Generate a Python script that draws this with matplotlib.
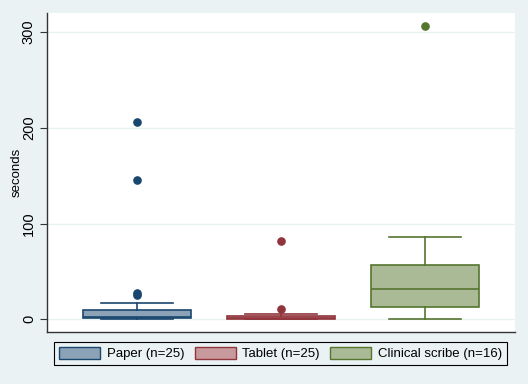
import matplotlib
matplotlib.use("Agg")
import matplotlib.pyplot as plt
from matplotlib.patches import Patch

plt.rcParams['font.family'] = ['Liberation Sans', 'DejaVu Sans']

# Data
groups = ["Paper (n=25)", "Tablet (n=25)", "Clinical scribe (n=16)"]
whislo = [0, 0, 0.3]
q1 = [1.0, 0.6, 12.5]
med = [2.0, 1.0, 31.3]
q3 = [9.7, 3.4, 56.7]
whishi = [16.7, 5.2, 85.7]
outliers = [[25.5, 27.0, 146, 206], [10.4, 81.5], [306]]
yticks = [0, 100, 200, 300]

edge_colors = ["#1a476f", "#90353b", "#55752f"]
fill_colors = ["#8ca3b7", "#c89a9d", "#aaba97"]
bg = "#eaf2f3"

fig = plt.figure(figsize=(5.28, 3.84), dpi=100, facecolor=bg)
ax = fig.add_axes([47/528, 1-332/384, (515-47)/528, (332-13)/384])
ax.set_facecolor("white")

for i in range(3):
    st = [dict(med=med[i], q1=q1[i], q3=q3[i], whislo=whislo[i], whishi=whishi[i],
               fliers=outliers[i], label=groups[i])]
    c = edge_colors[i]
    ax.bxp(st, positions=[i+1], widths=0.75, patch_artist=True, showfliers=True,
           boxprops=dict(facecolor=fill_colors[i], edgecolor=c, linewidth=1.2),
           medianprops=dict(color=c, linewidth=1.2),
           whiskerprops=dict(color=c, linewidth=1.2),
           capprops=dict(color=c, linewidth=1.2),
           capwidths=0.5,
           flierprops=dict(marker='o', markerfacecolor=c, markeredgecolor=c, markersize=5.2))

ax.set_xlim(0.375, 3.625)
ax.set_ylim(-13.3, 320)
ax.set_xticks([])
ax.set_yticks(yticks)
ax.set_yticklabels([str(t) for t in yticks], rotation=90, va='center', fontsize=10.5)
ax.tick_params(axis='y', length=5, width=0.8, color="#333333", pad=3)
ax.yaxis.grid(True, color=bg, linewidth=1.0)
ax.set_axisbelow(True)
for s in ["top", "right"]:
    ax.spines[s].set_visible(False)
for s in ["left", "bottom"]:
    ax.spines[s].set_color("#333333")
    ax.spines[s].set_linewidth(1.0)
ax.set_ylabel("seconds", fontsize=9.5)
ax.yaxis.set_label_coords(-(47-23)/468, 0.5)

handles = [Patch(facecolor=fill_colors[i], edgecolor=edge_colors[i], label=groups[i]) for i in range(3)]
leg = fig.legend(handles=handles, loc='center', bbox_to_anchor=(280.5/528, 1-353.5/384), ncol=3,
                 fontsize=9.5, frameon=True, fancybox=False, edgecolor="black",
                 facecolor=bg, framealpha=1, handlelength=3.1, handleheight=1.0,
                 columnspacing=0.8, handletextpad=0.5, borderpad=0.4)
leg.get_frame().set_linewidth(0.8)

fig.savefig("out.png", dpi=100, facecolor=bg)
